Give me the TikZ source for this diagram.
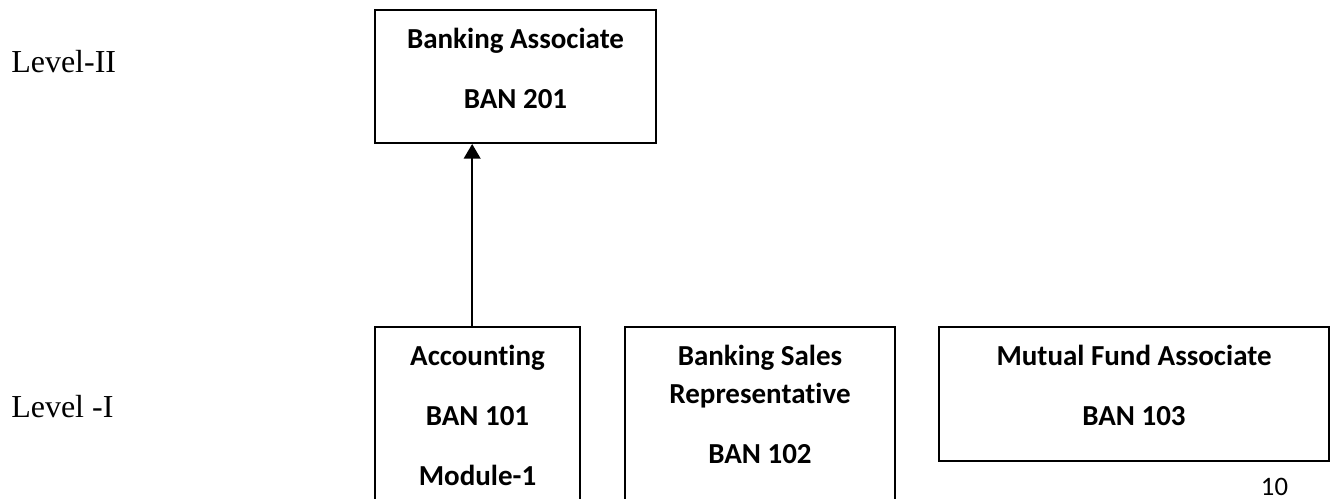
\documentclass[tikz,border=0pt]{standalone}
\usepackage{fontspec}
\setmainfont{Liberation Serif}
\newfontfamily\calibri[Ligatures=NoCommon]{Carlito}
\usetikzlibrary{arrows.meta,positioning}

\begin{document}
\begin{tikzpicture}[
  x=0.75pt, y=-0.75pt,
  box/.style={draw, line width=1.5pt, inner sep=0pt},
  txt/.style={font=\calibri\bfseries\fontsize{21.75}{28.5}\selectfont, align=center, inner sep=0pt},
  lvl/.style={font=\fontsize{24}{28}\selectfont, anchor=base west, inner sep=0pt},
  arr/.style={-{Triangle[length=11pt,width=12.5pt]}, line width=1.5pt}
]
  \useasboundingbox (0,0) rectangle (1335,499);

  % levels
  \node[lvl] (lvl2) at (11,73) {Level-II};
  \node[lvl] (lvl1) at (11,417) {Level -I};

  % boxes
  \node[box, minimum width=210.75pt, minimum height=99.75pt] (ban201) at (515.5,76.5) {};
  \node[box, minimum width=153.75pt, minimum height=160pt] (ban101) at (477.5,433.5) {};
  \node[box, minimum width=202.5pt, minimum height=160pt] (ban102) at (760,433.5) {};
  \node[box, minimum width=292.5pt, minimum height=100.5pt] (ban103) at (1134,394) {};

  \node[txt, below=14.25pt of ban201.north] (ban201-t) {Banking Associate\\[16.5pt]BAN 201};
  \node[txt, below=14.25pt of ban101.north] (ban101-t) {Accounting\\[16.5pt]BAN 101\\[16.5pt]Module-1};
  \node[txt, below=14.25pt of ban102.north] (ban102-t) {Banking Sales\\Representative\\[16.5pt]BAN 102};
  \node[txt, below=14.25pt of ban103.north] (ban103-t) {Mutual Fund Associate\\[16.5pt]BAN 103};

  \draw[arr] ([xshift=-4pt]ban101.north) -- ([xshift=-4pt]ban101.north |- ban201.south);

  \node[font=\calibri\fontsize{20}{24}\selectfont, anchor=base, inner sep=0pt] (pageno) at (1274.5,495) {10};
\end{tikzpicture}
\end{document}
